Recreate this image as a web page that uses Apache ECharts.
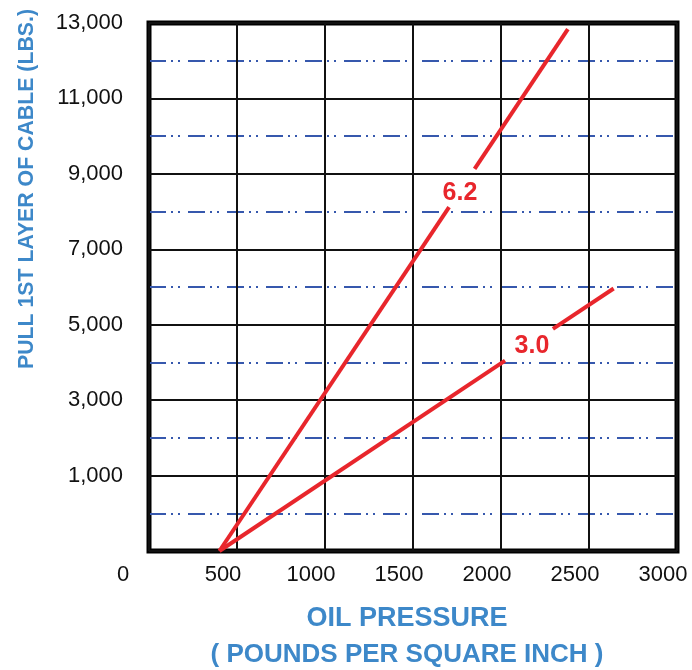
<!DOCTYPE html>
<html>
<head>
<meta charset="utf-8">
<script src="https://cdn.jsdelivr.net/npm/echarts@6/dist/echarts.min.js"></script>
<style>
html,body{margin:0;padding:0;background:#fff;}
#chart{width:692px;height:670px;}
</style>
</head>
<body>
<div id="chart"></div>
<script>
// ---- data ----
const xTicks = [0, 500, 1000, 1500, 2000, 2500, 3000];
const yTickLabels = [1000, 3000, 5000, 7000, 9000, 11000, 13000];
// curve "6.2" (split where the label sits)
const line62Lower = [[400, -1000], [1705, 8120]];
const line62Upper = [[1850, 9130], [2380, 12840]];
// curve "3.0"
const line30Lower = [[400, -1000], [2023, 4050]];
const line30Upper = [[2295, 4890], [2640, 5960]];
// curve labels
const curveLabels = [
  { name: '6.2', value: [1767, 8490] },
  { name: '3.0', value: [2176, 4440] }
];
const xTitle1 = 'OIL PRESSURE';
const xTitle2 = '( POUNDS PER SQUARE INCH )';
const yTitle = 'PULL 1ST LAYER OF CABLE (LBS.)';

const RED = '#e8262c';
const BLUE_T = '#3d88c9';
const FONT = 'Liberation Sans, Arial, sans-serif';

const chart = echarts.init(document.getElementById('chart'));
function seg(data) {
  return {
    type: 'line', data: data, symbol: 'none', silent: true, z: 5,
    lineStyle: { color: RED, width: 4 }
  };
}
const option = {
  animation: false,
  grid: {
    left: 149, right: 15, top: 23, bottom: 119,
    show: true, borderColor: '#000', borderWidth: 5, backgroundColor: '#fff'
  },
  xAxis: {
    type: 'value', min: 0, max: 3000, interval: 500,
    axisLine: { show: false }, axisTick: { show: false },
    splitLine: { show: true, lineStyle: { color: '#111', width: 2 } },
    axisLabel: {
      color: '#111', fontSize: 22, fontFamily: FONT, margin: 13,
      formatter: function (v) { return v === 0 ? '{z|0}' : '{n|' + v + '}'; },
      rich: {
        z: { color: '#111', fontSize: 22, fontFamily: FONT, padding: [0, 52, 0, 0] },
        n: { color: '#111', fontSize: 22, fontFamily: FONT, padding: [0, 28, 0, 0] }
      }
    }
  },
  yAxis: {
    type: 'value', min: -1000, max: 13000, interval: 2000,
    axisLine: { show: false }, axisTick: { show: false },
    splitLine: { show: true, lineStyle: { color: '#111', width: 2 } },
    minorTick: { show: false, splitNumber: 2 },
    minorSplitLine: { show: true, lineStyle: { color: '#3658ad', width: 2, type: [17, 5, 2, 5, 2, 8] } },
    axisLabel: {
      color: '#111', fontSize: 22, fontFamily: FONT, margin: 26,
      formatter: function (v) {
        return yTickLabels.indexOf(v) >= 0 ? v.toLocaleString('en-US') : '';
      }
    }
  },
  series: [
    seg(line62Lower), seg(line62Upper), seg(line30Lower), seg(line30Upper),
    {
      type: 'scatter', data: curveLabels, symbolSize: 0, silent: true, z: 6,
      itemStyle: { opacity: 1, color: RED },
      label: {
        show: true, position: 'inside', formatter: '{b}', opacity: 1,
        color: RED, fontSize: 25, fontWeight: 'bold', fontFamily: FONT
      }
    }
  ],
  graphic: [
    { type: 'text', x: 407, y: 619, style: { text: xTitle1, align: 'center', verticalAlign: 'middle', fill: BLUE_T, font: 'bold 27px ' + FONT } },
    { type: 'text', x: 407, y: 655, style: { text: xTitle2, align: 'center', verticalAlign: 'middle', fill: BLUE_T, font: 'bold 26px ' + FONT } },
    { type: 'text', x: 27, y: 189, rotation: Math.PI / 2, style: { text: yTitle, align: 'center', verticalAlign: 'middle', fill: BLUE_T, font: 'bold 21.3px ' + FONT } }
  ]
};
chart.setOption(option);
</script>
</body>
</html>
